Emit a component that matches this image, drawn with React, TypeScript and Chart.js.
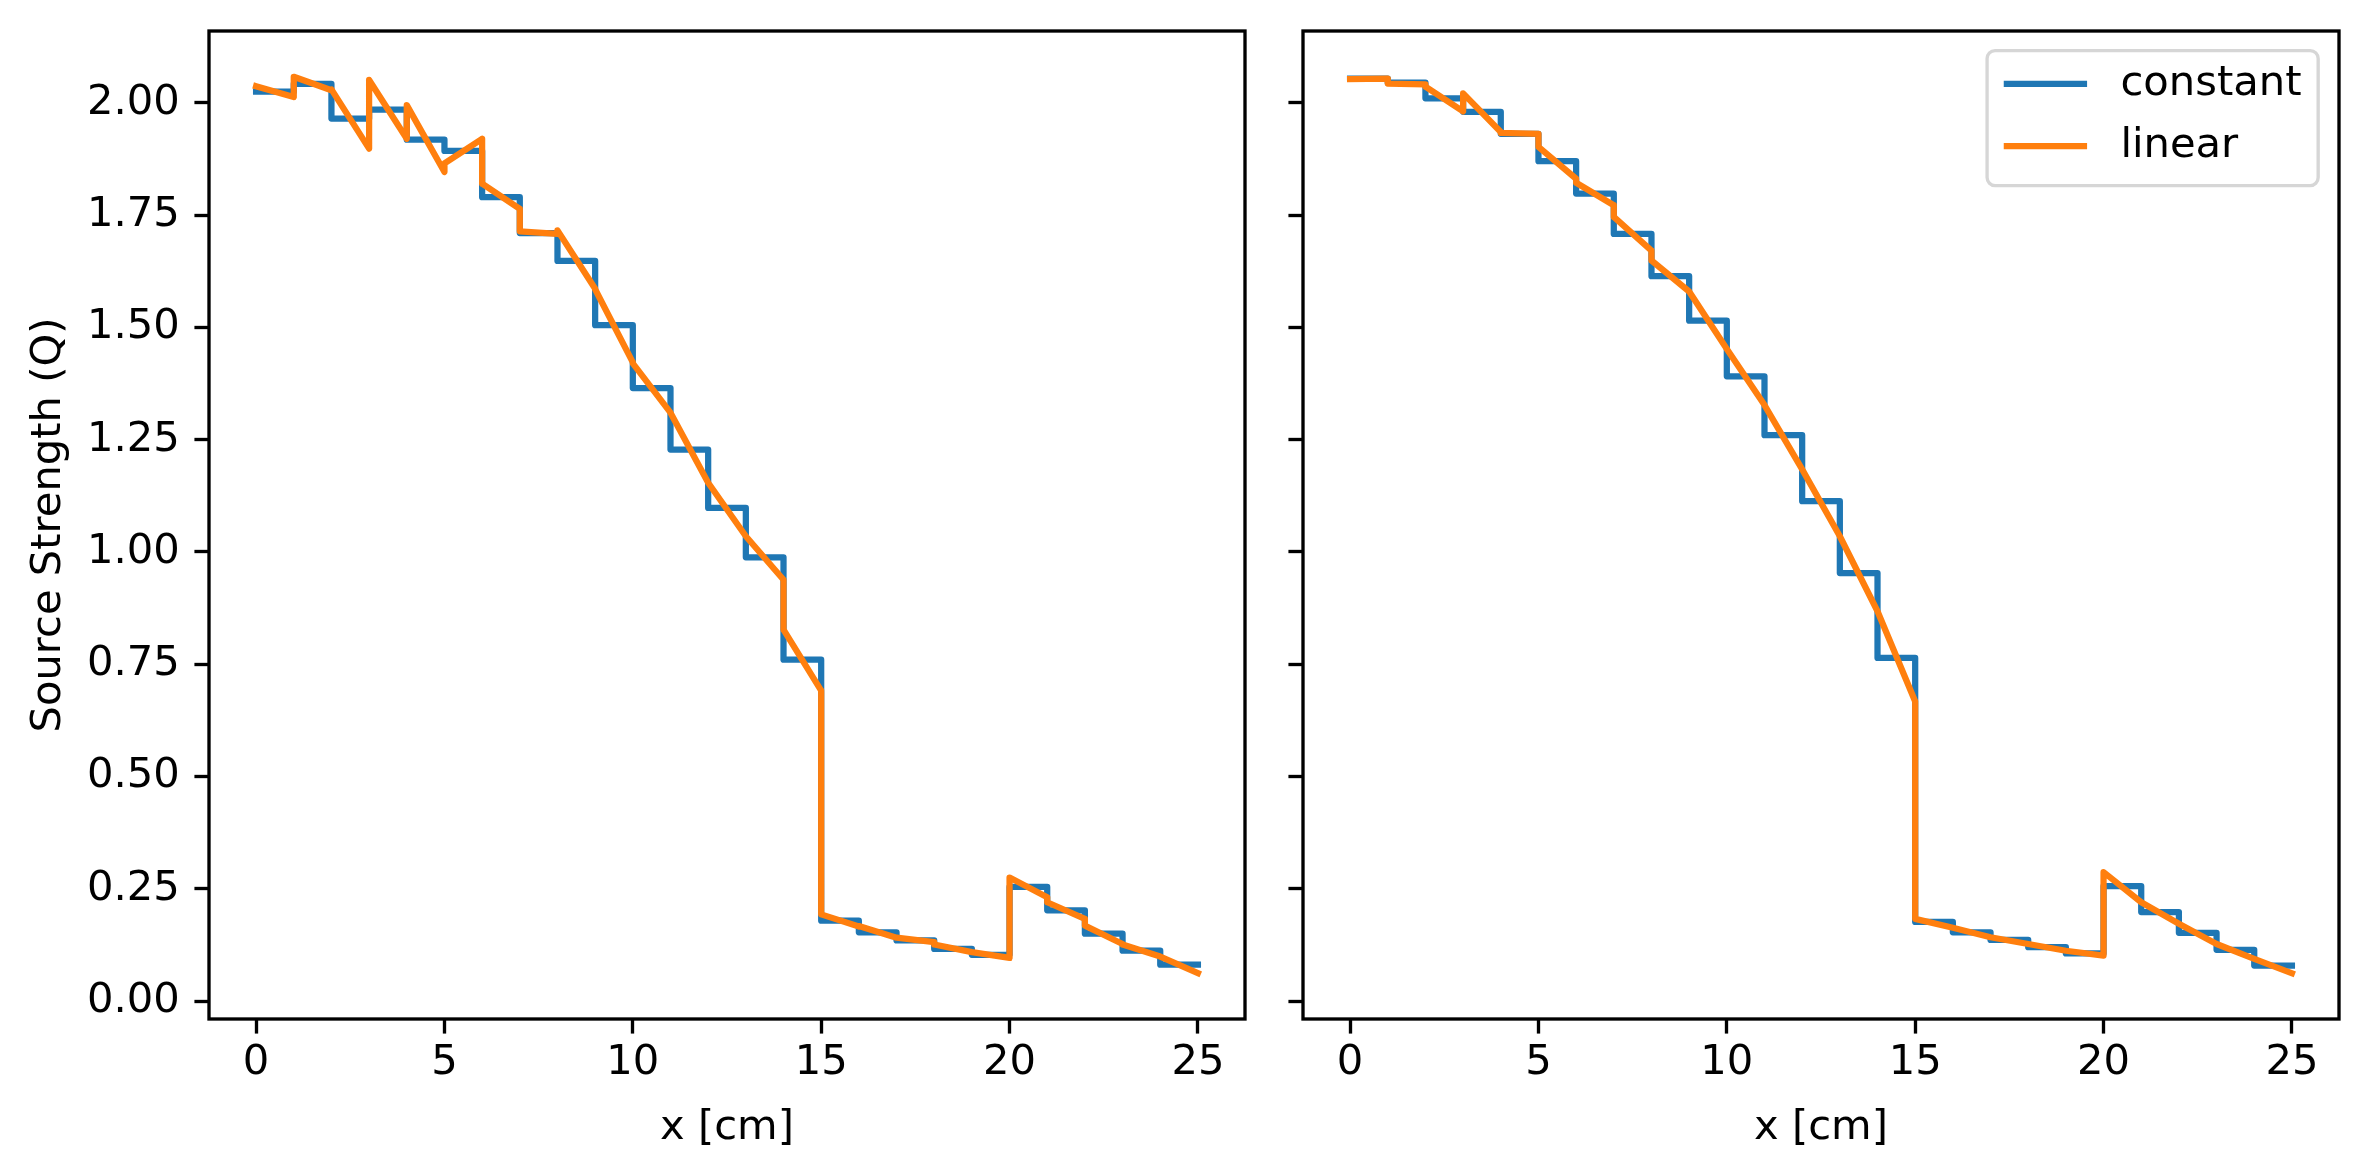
import { useEffect, useRef } from 'react';
import { Chart, registerables } from 'chart.js';

Chart.register(...registerables);

// matplotlib sizes at 300 dpi
const PT = 300 / 72;
const FS = 10 * PT;
const FONT = "'DejaVu Sans', sans-serif";
const BLUE = '#1f77b4';
const ORANGE = '#ff7f0e';

// cell edges along x [cm]
const cellEdges = [0, 1, 2, 3, 4, 5, 6, 7, 8, 9, 10, 11, 12, 13, 14, 15, 16, 17, 18, 19, 20, 21, 22, 23, 24, 25];
const xTicks = [0, 5, 10, 15, 20, 25];
const yTicks = [0, 0.25, 0.5, 0.75, 1.0, 1.25, 1.5, 1.75, 2.0];

// left panel: cell averages and linear end values per cell
const leftConstant = [2.025, 2.042, 1.965, 1.985, 1.918, 1.893, 1.79, 1.71, 1.648, 1.505, 1.365, 1.228, 1.098, 0.988, 0.76, 0.179, 0.153, 0.135, 0.116, 0.103, 0.254, 0.202, 0.15, 0.112, 0.081];
const leftLinearStart = [2.037, 2.058, 2.03, 2.051, 1.995, 1.865, 1.82, 1.714, 1.716, 1.585, 1.42, 1.31, 1.154, 1.035, 0.827, 0.193, 0.167, 0.141, 0.126, 0.109, 0.275, 0.22, 0.168, 0.126, 0.099];
const leftLinearEnd = [2.013, 2.028, 1.898, 1.92, 1.846, 1.92, 1.764, 1.708, 1.586, 1.422, 1.31, 1.154, 1.035, 0.938, 0.691, 0.166, 0.141, 0.131, 0.109, 0.096, 0.231, 0.183, 0.127, 0.099, 0.062];

// right panel
const rightConstant = [2.054, 2.045, 2.01, 1.98, 1.931, 1.87, 1.798, 1.708, 1.614, 1.515, 1.391, 1.26, 1.113, 0.953, 0.764, 0.176, 0.153, 0.136, 0.12, 0.106, 0.256, 0.198, 0.152, 0.114, 0.079];
const rightLinearStart = [2.053, 2.043, 2.036, 2.021, 1.933, 1.902, 1.822, 1.746, 1.649, 1.58, 1.452, 1.327, 1.184, 1.035, 0.868, 0.183, 0.163, 0.142, 0.127, 0.112, 0.287, 0.22, 0.172, 0.127, 0.094];
const rightLinearEnd = [2.054, 2.041, 1.981, 1.935, 1.931, 1.831, 1.772, 1.671, 1.58, 1.452, 1.327, 1.184, 1.035, 0.868, 0.667, 0.163, 0.142, 0.127, 0.112, 0.101, 0.22, 0.172, 0.127, 0.094, 0.062];

const stepPoints = (vals: number[]) =>
  cellEdges.map((x, i) => ({ x, y: vals[Math.min(i, vals.length - 1)] }));

const linearPoints = (start: number[], end: number[]) =>
  start.flatMap((s, i) => [
    { x: cellEdges[i], y: s },
    { x: cellEdges[i + 1], y: end[i] },
  ]);

// axes frame (all four spines) + matplotlib-style legend box
const frameAndLegend = {
  id: 'frameAndLegend',
  afterDraw(chart: Chart, _args: unknown, opts: { legend?: boolean }) {
    const { ctx, chartArea: a } = chart;
    ctx.save();
    ctx.strokeStyle = '#000';
    ctx.lineWidth = 0.8 * PT;
    ctx.strokeRect(a.left, a.top, a.right - a.left, a.bottom - a.top);

    if (opts && opts.legend) {
      ctx.font = `${FS}px ${FONT}`;
      const sets = chart.data.datasets;
      const textW = Math.max(...sets.map((d) => ctx.measureText(String(d.label)).width));
      const pad = 0.4 * FS;
      const handle = 2 * FS;
      const gap = 0.8 * FS;
      const w = pad + handle + gap + textW + pad;
      const h = 3.24 * FS;
      const left = a.right - 0.5 * FS - w;
      const top = a.top + 0.47 * FS;
      ctx.beginPath();
      ctx.roundRect(left, top, w, h, 8);
      ctx.fillStyle = '#fff';
      ctx.fill();
      ctx.strokeStyle = '#d6d6d6';
      ctx.lineWidth = 0.8 * PT;
      ctx.stroke();
      sets.forEach((d, i) => {
        const y = top + 0.8 * FS + i * 1.49 * FS;
        ctx.strokeStyle = String(d.borderColor);
        ctx.lineWidth = 1.5 * PT;
        ctx.beginPath();
        ctx.moveTo(left + pad, y);
        ctx.lineTo(left + pad + handle, y);
        ctx.stroke();
        ctx.fillStyle = '#000';
        ctx.textBaseline = 'middle';
        ctx.textAlign = 'left';
        ctx.fillText(String(d.label), left + pad + handle + gap, y);
      });
    }
    ctx.restore();
  },
};

interface PanelProps {
  left: number;
  width: number;
  yWidth: number;
  rightPad: number;
  constant: number[];
  linStart: number[];
  linEnd: number[];
  showYLabels: boolean;
  showLegend: boolean;
}

const HEIGHT = 1170;
const AREA_TOP = 31;
const AREA_BOTTOM = 1019;

function Panel({ left, width, yWidth, rightPad, constant, linStart, linEnd, showYLabels, showLegend }: PanelProps) {
  const canvasRef = useRef<HTMLCanvasElement>(null);

  useEffect(() => {
    if (!canvasRef.current) return;
    const tickGrid = {
      display: true,
      drawOnChartArea: false,
      drawTicks: true,
      tickLength: 3.5 * PT,
      tickWidth: 0.8 * PT,
      tickColor: '#000',
    };
    const chart = new Chart(canvasRef.current, {
      type: 'line',
      data: {
        datasets: [
          {
            label: 'constant',
            data: stepPoints(constant),
            borderColor: BLUE,
            borderWidth: 1.5 * PT,
            stepped: 'before',
            pointRadius: 0,
            borderJoinStyle: 'round',
            borderCapStyle: 'square',
            order: 1,
          },
          {
            label: 'linear',
            data: linearPoints(linStart, linEnd),
            borderColor: ORANGE,
            borderWidth: 1.5 * PT,
            pointRadius: 0,
            tension: 0,
            borderJoinStyle: 'round',
            borderCapStyle: 'square',
            order: 0,
          },
        ],
      },
      options: {
        responsive: false,
        animation: false,
        devicePixelRatio: 1,
        layout: { padding: { top: AREA_TOP, right: rightPad, left: 0, bottom: 0 } },
        plugins: {
          legend: { display: false },
          tooltip: { enabled: false },
          // @ts-ignore custom plugin options
          frameAndLegend: { legend: showLegend },
        },
        scales: {
          x: {
            type: 'linear',
            min: -1.25,
            max: 26.25,
            afterBuildTicks: (s: any) => {
              s.ticks = xTicks.map((v) => ({ value: v }));
            },
            afterFit: (s: any) => {
              s.height = HEIGHT - AREA_BOTTOM;
              s.paddingLeft = 0;
              s.paddingRight = 0;
            },
            grid: tickGrid,
            border: { display: false },
            ticks: {
              padding: 9,
              color: '#000',
              autoSkip: false,
              maxRotation: 0,
              font: { family: FONT, size: FS, lineHeight: 1 },
              callback: (v: any) => String(v),
            },
            title: {
              display: true,
              text: 'x [cm]',
              color: '#000',
              font: { family: FONT, size: FS, lineHeight: 1 },
              padding: { top: 0, bottom: 21 },
            },
          },
          y: {
            type: 'linear',
            min: -0.04,
            max: 2.16,
            afterBuildTicks: (s: any) => {
              s.ticks = yTicks.map((v) => ({ value: v }));
            },
            afterFit: (s: any) => {
              s.width = yWidth;
              s.paddingTop = 0;
              s.paddingBottom = 0;
            },
            grid: tickGrid,
            border: { display: false },
            ticks: {
              padding: 3.5 * PT,
              color: '#000',
              autoSkip: false,
              font: { family: FONT, size: FS, lineHeight: 1 },
              callback: (v: any) => (showYLabels ? Number(v).toFixed(2) : ''),
            },
            title: {
              display: showYLabels,
              text: 'Source Strength (Q)',
              color: '#000',
              font: { family: FONT, size: FS, lineHeight: 1 },
              padding: { top: 28, bottom: 0 },
            },
          },
        },
      },
      plugins: [frameAndLegend],
    });

    return () => {
      chart.destroy();
    };
  }, [constant, linStart, linEnd, showYLabels, showLegend, yWidth, rightPad]);

  return (
    <canvas
      ref={canvasRef}
      width={width}
      height={HEIGHT}
      style={{ position: 'absolute', left, top: 0, width, height: HEIGHT, display: 'block' }}
    />
  );
}

export default function App() {
  return (
    <div style={{ position: 'absolute', left: 0, top: 0, width: 2370, height: HEIGHT, background: '#fff' }}>
      <Panel
        left={0}
        width={1274}
        yWidth={209}
        rightPad={29}
        constant={leftConstant}
        linStart={leftLinearStart}
        linEnd={leftLinearEnd}
        showYLabels={true}
        showLegend={false}
      />
      <Panel
        left={1274}
        width={1096}
        yWidth={29}
        rightPad={31}
        constant={rightConstant}
        linStart={rightLinearStart}
        linEnd={rightLinearEnd}
        showYLabels={false}
        showLegend={true}
      />
    </div>
  );
}
